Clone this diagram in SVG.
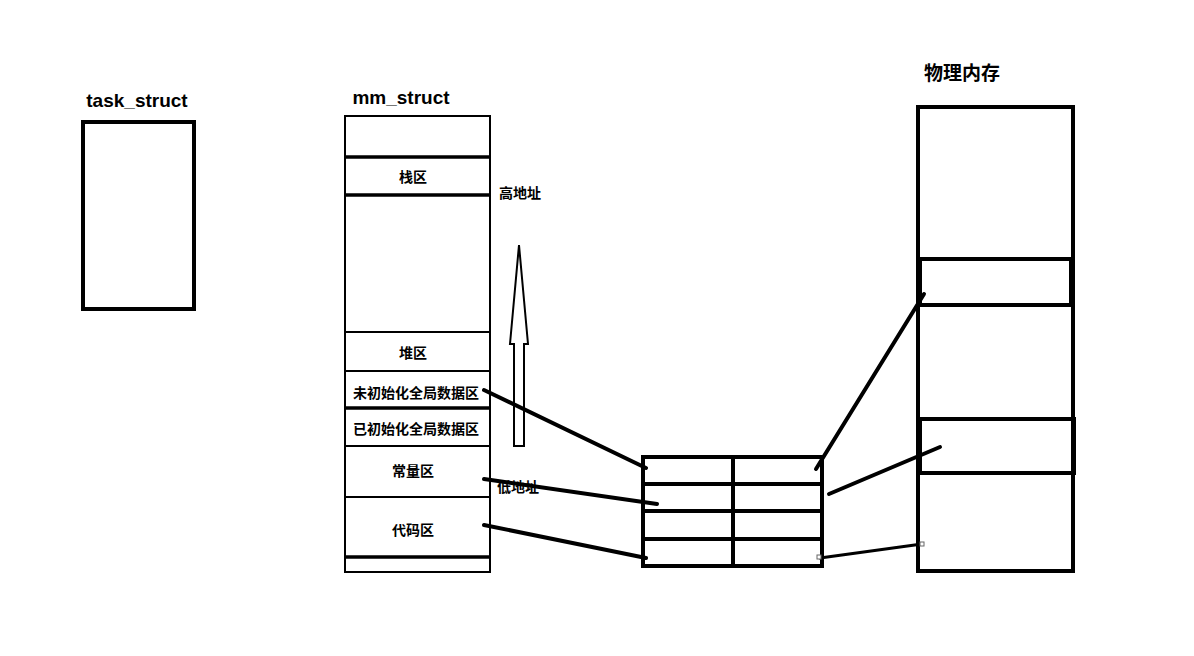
<svg xmlns="http://www.w3.org/2000/svg" width="1194" height="656" viewBox="0 0 1194 656">
<style>
.t{font-family:"Liberation Sans","Noto Sans CJK SC",sans-serif;font-weight:bold;fill:#000}
.b{fill:none;stroke:#000}
.c{font-family:"Noto Sans CJK SC",sans-serif;font-weight:bold;font-size:14px;text-anchor:middle}
</style>
<rect width="1194" height="656" fill="#fff"/>
<g id="task_struct">
<text class="t" x="137" y="107" font-size="19" text-anchor="middle">task_struct</text>
<rect class="b" x="83" y="122" width="111" height="187" stroke-width="4"/>
</g>
<g id="mm_struct">
<text class="t" x="401" y="104" font-size="19" text-anchor="middle">mm_struct</text>
<rect class="b" x="345" y="116" width="145" height="456" stroke-width="2"/>
<g class="b" stroke-width="2">
<line x1="345" y1="157" x2="490" y2="157" stroke-width="3.5"/>
<line x1="345" y1="195" x2="490" y2="195" stroke-width="3.5"/>
<line x1="345" y1="332" x2="490" y2="332"/>
<line x1="345" y1="371" x2="490" y2="371"/>
<line x1="345" y1="408" x2="490" y2="408" stroke-width="3.5"/>
<line x1="345" y1="446" x2="490" y2="446"/>
<line x1="345" y1="497" x2="490" y2="497"/>
<line x1="345" y1="557" x2="490" y2="557" stroke-width="3.5"/>
</g>
<text class="c" x="413" y="182">栈区</text>
<text class="c" x="413" y="358">堆区</text>
<text class="c" x="416" y="398">未初始化全局数据区</text>
<text class="c" x="416" y="434">已初始化全局数据区</text>
<text class="c" x="413" y="476">常量区</text>
<text class="c" x="413" y="535">代码区</text>
</g>
<g id="address">
<text class="c" x="520" y="198" font-size="10">高地址</text>
<text class="c" x="518" y="492" font-size="10">低地址</text>
<path class="b" stroke-width="2" d="M519 245 L528 344 L524 344 L524 446 L514 446 L514 344 L510 344 Z"/>
</g>
<g id="page_table">
<rect class="b" x="643" y="457" width="179" height="109" stroke-width="4"/>
<g class="b" stroke-width="4">
<line x1="733" y1="457" x2="733" y2="566"/>
<line x1="643" y1="484" x2="822" y2="484"/>
<line x1="643" y1="511" x2="822" y2="511"/>
<line x1="643" y1="539" x2="822" y2="539"/>
</g>
</g>
<g id="physical_memory">
<text class="t" x="962" y="80" font-size="19" text-anchor="middle">物理内存</text>
<rect class="b" x="918" y="107" width="155" height="464" stroke-width="4"/>
<rect class="b" x="920" y="259" width="151" height="46" stroke-width="4"/>
<rect class="b" x="920" y="419" width="154" height="54" stroke-width="4"/>
</g>
<g id="connectors" stroke="#000" stroke-width="4" stroke-linecap="round" fill="none">
<line x1="484" y1="390" x2="646" y2="468"/>
<line x1="484" y1="479" x2="657" y2="504"/>
<line x1="484" y1="525" x2="646" y2="558"/>
<line x1="816" y1="469" x2="924" y2="294"/>
<line x1="829" y1="494" x2="940" y2="447"/>
<line x1="820" y1="558" x2="922" y2="544" stroke-width="3"/>
<rect x="817" y="555" width="4" height="4" stroke="#666" stroke-width="1" fill="#fff"/>
<rect x="920" y="542" width="4" height="4" stroke="#666" stroke-width="1" fill="#fff"/>
</g>
</svg>
